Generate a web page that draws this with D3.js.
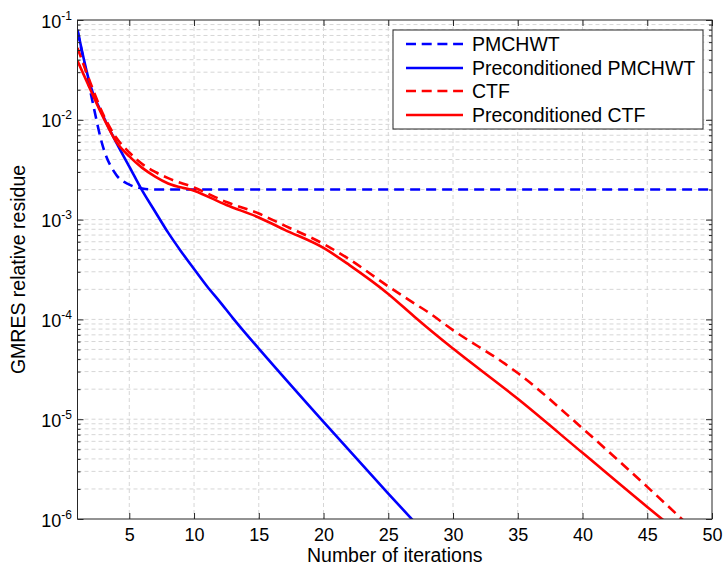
<!DOCTYPE html>
<html lang="en">
<head>
<meta charset="utf-8" />
<title>GMRES relative residue vs iterations</title>
<style>
   body { margin:0; background:#fff; }
   svg text { font-family:"Liberation Sans", Arial, sans-serif; fill:#000; }
   .grid line { stroke:#d6d6d6; stroke-width:1; stroke-dasharray:4,3; }
   .axis path { display:none; }
   .axis line { stroke:#262626; stroke-width:1; }
</style>
<script src="https://d3js.org/d3.v7.min.js"></script>
</head>
<body>
<svg id="main" width="724" height="571"></svg>
<script>
// values
var xTicks = [5,10,15,20,25,30,35,40,45,50];
var yExps = [-6,-5,-4,-3,-2,-1];

var itPmchwt = [1,2,3,4,5,6,7,50];
var resPmchwt = [0.078,0.019,0.0052,0.0028,0.00224,0.00205,0.0020,0.0020];

var itPrePmchwt = [1,2,3,4,5,6,7,8,9,10,11,12,13,14,15,20,25,27];
var resPrePmchwt = [0.080,0.022,0.0108,0.0059,0.0034,0.00195,0.0012,7.4e-4,4.8e-4,3.2e-4,2.15e-4,1.5e-4,1.03e-4,7.2e-5,5.1e-5,9.4e-6,1.8e-6,9.4e-7];

var itCtf = [1,2,3,4,5,6,7,8,10,12.5,15,17,20,22,25,27,28,30,34,35,40,45,48];
var resCtf = [0.0525,0.0234,0.0112,0.0066,0.0047,0.0036,0.0030,0.0026,0.0021,0.0015,0.00115,0.00087,0.00057,0.00040,0.000214,0.000145,0.00012,7.8e-5,3.6e-5,2.9e-5,8.1e-6,2.1e-6,9.1e-7];

var itPreCtf = [1,2,3,4,5,6,7,8,10,12.5,15,17,20,22,25,27,28,30,35,40,45,47];
var resPreCtf = [0.039,0.020,0.0105,0.0060,0.0043,0.0033,0.0027,0.0023,0.00195,0.0014,0.00105,0.00079,0.00052,0.00035,0.00018,0.000107,8.3e-5,5.1e-5,1.6e-5,4.6e-6,1.32e-6,8.1e-7];

var seriesNames = ['PMCHWT','Preconditioned PMCHWT','CTF','Preconditioned CTF'];
var seriesColors = ['#0000ff','#0000ff','#ff0000','#ff0000'];
var seriesDashed = [true,false,true,false];
var seriesIt = [itPmchwt,itPrePmchwt,itCtf,itPreCtf];
var seriesRes = [resPmchwt,resPrePmchwt,resCtf,resPreCtf];

var L = 77.5, R = 712, T = 20, B = 519;
var svg = d3.select('#main');
var x = d3.scaleLinear().domain([1,50]).range([L,R]);
var y = d3.scaleLog().domain([1e-6,1e-1]).range([B,T]);

var majors = yExps.map(e=>Math.pow(10,e));
var minors = [];
yExps.slice(0,-1).forEach(function(e) {
   for (var m=2; m<=9; m++) { minors.push(m*Math.pow(10,e)); }
});

// grid
var grid = svg.append('g').attr('class','grid');
grid.selectAll('line.gx').data(xTicks.filter(v=>v<50)).enter().append('line')
   .attr('x1',d=>x(d)).attr('x2',d=>x(d)).attr('y1',T).attr('y2',B);
grid.selectAll('line.gy').data(minors.concat(majors.slice(1,-1))).enter().append('line')
   .attr('x1',L).attr('x2',R).attr('y1',d=>y(d)).attr('y2',d=>y(d));

// curves
svg.append('clipPath').attr('id','clip').append('rect')
   .attr('x',L).attr('y',T).attr('width',R-L).attr('height',B-T);
var line = d3.line().x(d=>x(d[0])).y(d=>y(d[1])).curve(d3.curveMonotoneX);
var plot = svg.append('g').attr('clip-path','url(#clip)');
for (var s=0; s<4; s++) {
   var pts = seriesIt[s].map((v,i)=>[v,seriesRes[s][i]]);
   plot.append('path').datum(pts)
      .attr('d',line)
      .attr('fill','none')
      .attr('stroke',seriesColors[s])
      .attr('stroke-width',2.6)
      .attr('stroke-linejoin','round')
      .attr('stroke-dasharray',seriesDashed[s]?'10,6':null);
}

// axes with inward ticks
function addAxis(axis,tx,ty) {
   return svg.append('g').attr('class','axis').attr('transform','translate('+tx+','+ty+')').call(axis);
}
addAxis(d3.axisBottom(x).tickValues(xTicks).tickSize(-6).tickPadding(10).tickFormat(d3.format('d')),0,B)
   .selectAll('text').style('font-size','18px').attr('dy','0.66em');
addAxis(d3.axisTop(x).tickValues(xTicks).tickSize(-6).tickFormat(''),0,T);
addAxis(d3.axisLeft(y).tickValues(majors).tickSize(-6).tickFormat(''),L,0);
addAxis(d3.axisLeft(y).tickValues(minors).tickSize(-3).tickFormat(''),L,0);
addAxis(d3.axisRight(y).tickValues(majors).tickSize(-6).tickFormat(''),R,0);
addAxis(d3.axisRight(y).tickValues(minors).tickSize(-3).tickFormat(''),R,0);

svg.append('rect').attr('x',L).attr('y',T).attr('width',R-L).attr('height',B-T)
   .attr('fill','none').attr('stroke','#262626').attr('stroke-width',1);

// y tick labels 10^n
yExps.forEach(function(e) {
   var t = svg.append('text').attr('x',72).attr('y',y(Math.pow(10,e))+7.5)
      .attr('text-anchor','end').style('font-size','18px');
   t.append('tspan').text('10');
   t.append('tspan').attr('dy',-8).style('font-size','12px').text(String(e));
});

// axis titles
svg.append('text').attr('x',(L+R)/2).attr('y',562).attr('text-anchor','middle')
   .style('font-size','19.5px').text('Number of iterations');
svg.append('text').attr('transform','translate(25,'+((T+B)/2)+') rotate(-90)')
   .attr('text-anchor','middle').style('font-size','19.5px').text('GMRES relative residue');

// legend
var lg = svg.append('g');
lg.append('rect').attr('x',393).attr('y',30).attr('width',310).attr('height',99)
   .attr('fill','#fff').attr('stroke','#262626').attr('stroke-width',1);
var rowY = [44,68,91,115];
for (var k=0; k<4; k++) {
   lg.append('line').attr('x1',406).attr('x2',463).attr('y1',rowY[k]).attr('y2',rowY[k])
      .attr('stroke',seriesColors[k]).attr('stroke-width',2.6)
      .attr('stroke-dasharray',seriesDashed[k]?'10,5.7':null);
   lg.append('text').attr('x',472).attr('y',rowY[k]+7).style('font-size','19.5px').text(seriesNames[k]);
}
</script>
</body>
</html>
